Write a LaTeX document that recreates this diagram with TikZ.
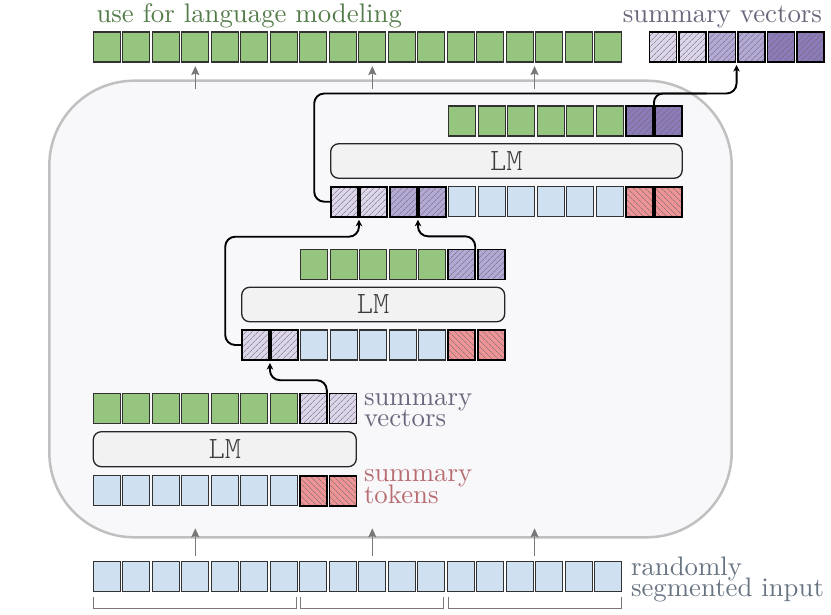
\documentclass[tikz,border=0pt]{standalone}
\usepackage{fontspec}
\newfontfamily\lmlight{lmmonolt10-regular.otf}
\usetikzlibrary{arrows.meta,calc,patterns.meta}
\definecolor{cG}{RGB}{150,197,128}
\definecolor{cB}{RGB}{207,225,240}
\definecolor{cR}{RGB}{238,148,148}
\definecolor{cL}{RGB}{221,214,235}
\definecolor{cM}{RGB}{180,169,212}
\definecolor{cD}{RGB}{140,123,184}
\definecolor{hatch}{RGB}{105,105,115}
\definecolor{cellline}{RGB}{50,50,50}
\definecolor{boxline}{RGB}{192,192,192}
\definecolor{boxfill}{RGB}{248,248,251}
\definecolor{lmfill}{RGB}{242,242,242}
\definecolor{lmtext}{RGB}{60,60,60}
\definecolor{txtgreen}{RGB}{84,124,74}
\definecolor{txtpurple}{RGB}{104,104,124}
\definecolor{txtred}{RGB}{184,108,112}
\definecolor{txtblue}{RGB}{104,116,130}
\definecolor{garrowc}{RGB}{120,120,120}
\begin{document}
\begin{tikzpicture}[x=1pt,y=-1pt,
  cell/.style={draw=cellline, line width=1.3pt, minimum width=27pt, minimum height=30pt, inner sep=0pt, outer sep=0pt},
  cellG/.style={cell, fill=cG},
  cellB/.style={cell, fill=cB},
  hcell/.style={cell, draw=black, line width=1.6pt, pattern color=hatch},
  cellL/.style={hcell, preaction={fill=cL}, pattern={Lines[angle=45,distance=4pt,line width=0.5pt]}},
  cellM/.style={hcell, preaction={fill=cM}, pattern={Lines[angle=45,distance=4pt,line width=0.5pt]}},
  cellD/.style={hcell, preaction={fill=cD}, pattern={Lines[angle=45,distance=4pt,line width=0.5pt]}},
  cellR/.style={hcell, preaction={fill=cR}, pattern={Lines[angle=-45,distance=4pt,line width=0.5pt]}},
  lmbox/.style={draw=black!85, fill=lmfill, line width=1.3pt, rounded corners=8pt, inner sep=0pt, outer sep=0pt, font=\lmlight\fontsize{31}{31}\selectfont, text=lmtext},
  txt/.style={font=\fontsize{10}{10}\selectfont, scale=2.68, inner sep=0pt, outer sep=0pt},
  garrow/.style={draw=garrowc, line width=1.5pt, -{Stealth[length=9pt,width=8pt,inset=1.5pt]}},
  conn/.style={draw=black, line width=1.9pt, -{Stealth[length=6.5pt,width=6.5pt,inset=1.8pt]}, rounded corners=10pt, shorten >=3pt},
  branch/.style={draw=black, line width=1.9pt, rounded corners=9pt}
]
\useasboundingbox (0,0) rectangle (831,614);

% big box
\node[draw=boxline, fill=boxfill, line width=2.5pt, rounded corners=85pt, minimum width=682.4pt, minimum height=456.6pt, inner sep=0pt, outer sep=0pt] (box) at (390.5,309) {};

% top row
\foreach \c [count=\i from 0] in {G,G,G,G,G,G,G,G,G,G,G,G,G,G,G,G,G,G}
  \node[cell\c] (t\i) at ({106.8+\i*29.5},47) {};
\foreach \c [count=\i from 0] in {L,L,M,M,D,D}
  \node[cell\c] (sv\i) at ({662.8+\i*29.5},47) {};

% stage 3
\foreach \c [count=\i from 0] in {G,G,G,G,G,G,D,D}
  \node[cell\c] (s3o\i) at ({462.2+\i*29.5},121) {};
\node[lmbox, minimum width=351.5pt, minimum height=34.5pt] (lm3) at (506.45,161) {LM};
\foreach \c [count=\i from 0] in {L,L,M,M,B,B,B,B,B,B,R,R}
  \node[cell\c] (s3i\i) at ({344.2+\i*29.5},201.7) {};

% stage 2
\foreach \c [count=\i from 0] in {G,G,G,G,G,M,M}
  \node[cell\c] (s2o\i) at ({314.2+\i*29.5},264.3) {};
\node[lmbox, minimum width=263pt, minimum height=34.5pt] (lm2) at (373.2,304.5) {LM};
\foreach \c [count=\i from 0] in {L,L,B,B,B,B,B,R,R}
  \node[cell\c] (s2i\i) at ({255.2+\i*29.5},345) {};

% stage 1
\foreach \c [count=\i from 0] in {G,G,G,G,G,G,G,L,L}
  \node[cell\c] (s1o\i) at ({106.8+\i*29.5},408.5) {};
\node[lmbox, minimum width=263pt, minimum height=35pt] (lm1) at (224.8,449.2) {LM};
\foreach \c [count=\i from 0] in {B,B,B,B,B,B,B,R,R}
  \node[cell\c] (s1i\i) at ({106.8+\i*29.5},490.7) {};

% bottom input
\foreach \c [count=\i from 0] in {B,B,B,B,B,B,B,B,B,B,B,B,B,B,B,B,B,B}
  \node[cell\c] (b\i) at ({106.8+\i*29.5},576.7) {};

% labels
\node[txt, text=txtgreen, anchor=base west] (lmlabel) at (96.5,22) {use for language modeling};
\node[txt, text=txtpurple, anchor=base east] (svlabel) at (822,22) {summary vectors};
\node[txt, text=txtpurple, anchor=base west] (sv1a) at (364,405) {summary};
\node[txt, text=txtpurple, anchor=base west] (sv1b) at (364,426.5) {vectors};
\node[txt, text=txtred, anchor=base west] (st1a) at (364,481.7) {summary};
\node[txt, text=txtred, anchor=base west] (st1b) at (364,503) {tokens};
\node[txt, text=txtblue, anchor=base west] (rs1) at (631,575.7) {randomly};
\node[txt, text=txtblue, anchor=base west] (rs2) at (631,596) {segmented input};

% gray arrows
\coordinate (ga1) at (t3.south);
\coordinate (ga2) at (t9.south);
\coordinate (ga3) at ($(t14.south)!.5!(t15.south)$);
\coordinate (gb1) at (b3.north);
\coordinate (gb2) at (b9.north);
\coordinate (gb3) at ($(b14.north)!.5!(b15.north)$);
\foreach \a/\b in {ga1/gb1,ga2/gb2,ga3/gb3}{
  \draw[garrow] ($(\a |- box.north)+(0,8)$) -- ($(\a)+(0,4)$);
  \draw[garrow] ($(\b)+(0,-5.5)$) -- ($(\b |- box.south)+(0,-9)$);
}

% brackets
\draw[draw=garrowc, line width=1.3pt] ($(b0.south west)+(0.5,5)$) |- ($(b6.south east)+(-1,17)$) -- ++(0,-12);
\draw[draw=garrowc, line width=1.3pt] ($(b7.south west)+(1,5)$) |- ($(b11.south east)+(-1,17)$) -- ++(0,-12);
\draw[draw=garrowc, line width=1.3pt] ($(b12.south west)+(1,5)$) |- ($(b17.south east)+(-0.5,17)$) -- ++(0,-12);

% black connectors
\coordinate (svc) at ($(sv2.south)!.5!(sv3.south)$);
\coordinate (s3p1) at ($(s3i0.south)!.5!(s3i1.south)$);
\coordinate (s3p2) at ($(s3i2.south)!.5!(s3i3.south)$);
\coordinate (s2p1) at ($(s2i0.south)!.5!(s2i1.south)$);

\draw[conn] (s1o7.north east) -- ++(0,-13.3) -| (s2p1);
\draw[conn] (s2o5.north east) -- ++(0,-13) -| (s3p2);
\draw[conn] (s2i0.west) -- ++(-16.5,0) |- ($(s3p1)+(0,20)$) -- (s3p1);
\draw[conn] (s3i0.west) -- ++(-16.5,0) |- ($(svc)+(0,31.5)$) -- (svc);
\draw[branch] ($(s3o6.north)!.5!(s3o7.north)$) |- ($(svc)+(-30,31.5)$);
\end{tikzpicture}
\end{document}
